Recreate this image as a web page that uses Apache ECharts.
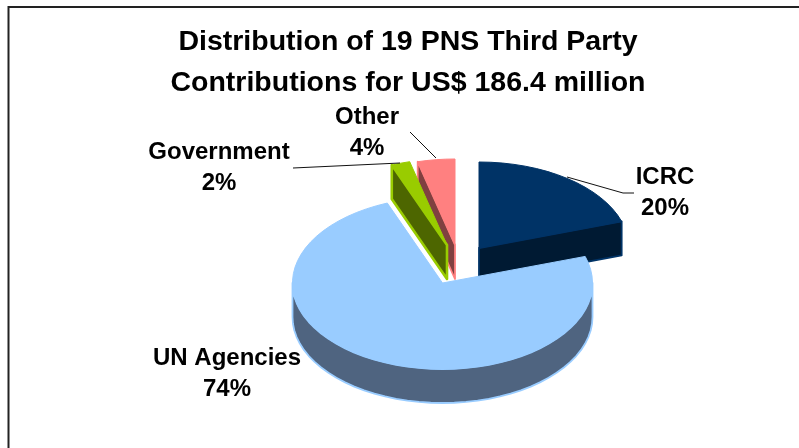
<!DOCTYPE html>
<html><head><meta charset="utf-8">
<style>html,body{margin:0;padding:0;background:#fff}#c{width:799px;height:448px}</style>
<script src="https://cdn.jsdelivr.net/npm/echarts@6/dist/echarts.min.js"></script>
</head><body><div id="c"></div>
<script>
const titleLines = ['Distribution of 19 PNS Third Party', 'Contributions for US$ 186.4 million'];
const categories = ['ICRC', 'UN Agencies', 'Government', 'Other'];
const shares = [20, 74, 2, 4];

const topColors = ['#003366', '#99CCFF', '#99CC00', '#FF8080'];
const wallColors = ['#001A33', '#4F6480', '#4D6600', '#804040'];
const centers = [[479, 248], [442.5, 283], [447, 245], [455, 245]];
const labelPos = [[665, 193], [227, 374], [219, 168], [367, 133]];
const leaders = [
  [[567, 177], [623, 193], [634, 193]],
  null,
  [[293, 168], [400, 163]],
  [[410, 132], [436, 158]]
];
const RX = 150, RY = 86, DEPTH = 34;
const drawOrder = [3, 0, 2, 1];
const total = shares.reduce((a, b) => a + b, 0);
const starts = shares.map((_, i) => shares.slice(0, i).reduce((a, b) => a + b, 0));

function pt(c, theta, dy) {
  return [c[0] + RX * Math.sin(theta), c[1] - RY * Math.cos(theta) + (dy || 0)];
}
function arc(c, a, b, dy) {
  const n = Math.max(2, Math.ceil(Math.abs(b - a) * 40 / Math.PI));
  const out = [];
  for (let k = 0; k <= n; k++) out.push(pt(c, a + (b - a) * k / n, dy));
  return out;
}
function renderItem(params, api) {
  const i = api.value(0);
  const a = api.value(2) / total * 2 * Math.PI;
  const b = a + api.value(1) / total * 2 * Math.PI;
  const c = centers[i];
  const kids = [];
  const wallStyle = { fill: wallColors[i], stroke: topColors[i], lineWidth: i === 2 ? 2.6 : 1.8, lineJoin: 'round' };
  // radial cut walls, seen from the front
  if (i === 2 || i === 3) {
    const p = pt(c, a);
    kids.push({ type: 'polygon', shape: { points: [c, p, [p[0], p[1] + DEPTH], [c[0], c[1] + DEPTH]] }, style: wallStyle });
  }
  if (i === 0) {
    const p = pt(c, b);
    kids.push({ type: 'polygon', shape: { points: [c, p, [p[0], p[1] + DEPTH], [c[0], c[1] + DEPTH]] }, style: wallStyle });
  }
  // outer rim
  const ra = Math.max(a, Math.PI / 2), rb = Math.min(b, 3 * Math.PI / 2);
  if (rb > ra) {
    kids.push({ type: 'polygon', shape: { points: arc(c, ra, rb, 0).concat(arc(c, rb, ra, DEPTH)) }, style: wallStyle });
  }
  // top face
  kids.push({
    type: 'polygon',
    shape: { points: [c].concat(arc(c, a, b, 0)) },
    style: { fill: topColors[i], stroke: topColors[i], lineWidth: 1 }
  });
  // leader line
  if (leaders[i]) {
    kids.push({ type: 'polyline', shape: { points: leaders[i] }, style: { fill: null, stroke: '#111', lineWidth: 1 } });
  }
  // label
  kids.push({
    type: 'text',
    style: {
      x: labelPos[i][0], y: labelPos[i][1],
      text: categories[i] + '\n' + api.value(1) + '%',
      fill: '#000', align: 'center', verticalAlign: 'middle',
      font: 'bold 24px "Liberation Sans", Arial, sans-serif',
      lineHeight: 31
    }
  });
  return { type: 'group', children: kids };
}

const chart = echarts.init(document.getElementById('c'), null, { renderer: 'canvas' });
chart.setOption({
  animation: false,
  backgroundColor: '#fff',
  title: {
    text: titleLines.join('\n'),
    left: 403, top: 17, textAlign: 'center',
    textStyle: { fontFamily: '"Liberation Sans", Arial, sans-serif', fontWeight: 'bold', fontSize: 28.5, lineHeight: 41, color: '#000', align: 'center' }
  },
  graphic: [{
    type: 'rect', silent: true, z: -1,
    shape: { x: 8.5, y: 7, width: 820, height: 460 },
    style: { fill: '#fff', stroke: '#222', lineWidth: 2 }
  }],
  series: [{
    type: 'custom',
    coordinateSystem: 'none',
    renderItem,
    data: drawOrder.map(i => ({ name: categories[i], value: [i, shares[i], starts[i]] }))
  }]
});
</script></body></html>
